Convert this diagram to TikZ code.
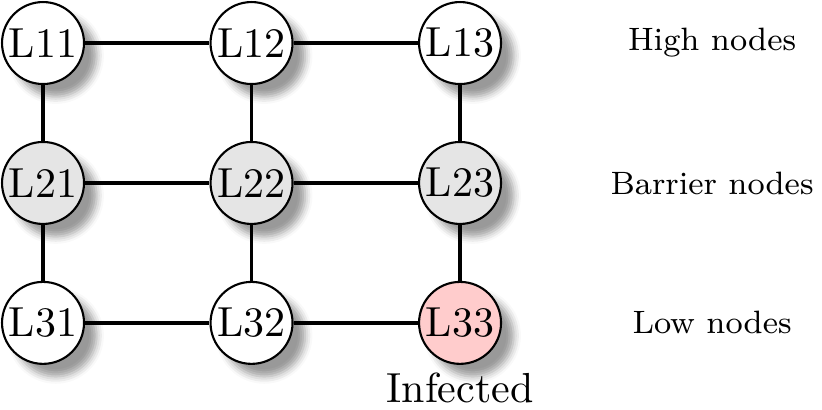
\documentclass[tikz,border=0pt]{standalone}
\usetikzlibrary{positioning,shadows.blur}
\tikzset{
  host/.style={circle, draw, line width=0.5pt, fill=white, minimum size=0.686cm,
               inner sep=0pt, blur shadow={shadow xshift=.7ex, shadow yshift=-.7ex}},
  barrier/.style={host, fill=gray!20},
  infected/.style={host, fill=red!20},
  link/.style={line width=0.8pt},
  lvl/.style={font=\fontsize{7.7pt}{9pt}\selectfont},
}
\begin{document}
\begin{tikzpicture}[node distance=1.171cm and 1.745cm, on grid]
    \useasboundingbox (0,0) rectangle (6.879,-3.431);
    % high row
    \node[host] (L11) at (0.36,-0.36) {L11};
    \node[host, right=of L11] (L12) {L12};
    \node[host, right=of L12] (L13) {L13};
    % barrier row
    \node[barrier, below=of L11] (L21) {L21};
    \node[barrier, right=of L21] (L22) {L22};
    \node[barrier, right=of L22] (L23) {L23};
    % low row
    \node[host, below=of L21] (L31) {L31};
    \node[host, right=of L31] (L32) {L32};
    \node[infected, right=of L32] (L33) {L33};
    \draw[link] (L11) -- (L12) (L12) -- (L13);
    \draw[link] (L21) -- (L22) (L22) -- (L23);
    \draw[link] (L31) -- (L32) (L32) -- (L33);
    \draw[link] (L11) -- (L21) (L21) -- (L31);
    \draw[link] (L12) -- (L22) (L22) -- (L32);
    \draw[link] (L13) -- (L23) (L23) -- (L33);
    \node[lvl, right=2.109cm of L13] (high) {High nodes};
    \node[lvl, right=2.109cm of L23] (barr) {Barrier nodes};
    \node[lvl, right=2.109cm of L33] (low) {Low nodes};
    \node[below=0.544cm of L33] (inf) {Infected};
  \end{tikzpicture}
\end{document}
